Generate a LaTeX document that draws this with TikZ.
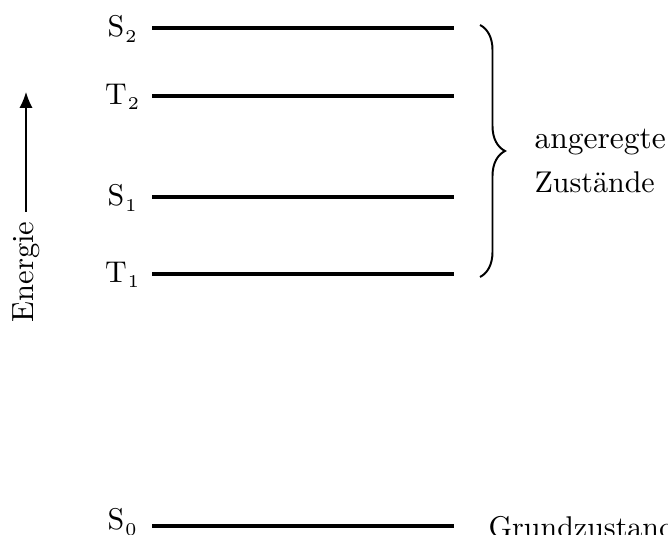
\documentclass[tikz,border=0pt]{standalone}
\usetikzlibrary{arrows.meta,decorations.pathreplacing}
% level label: upright letter with a small lowered index
\newcommand\lvlname[2]{#1\kern0.3pt\raisebox{-1.7pt}{\fontsize{6}{6}\selectfont #2}}
\begin{document}
\begin{tikzpicture}[x=0.33333pt,y=-0.33333pt,
  level/.style={line width=1.1pt},
  lvllabel/.style={inner sep=0pt,anchor=base},
  sidetext/.style={inner sep=0pt,anchor=base west}]
\useasboundingbox (0,0) rectangle (668,535);

% energy levels
\coordinate (s2a) at (152,28);  \coordinate (s2b) at (454,28);
\coordinate (t2a) at (152,96);  \coordinate (t2b) at (454,96);
\coordinate (s1a) at (152,197); \coordinate (s1b) at (454,197);
\coordinate (t1a) at (152,274); \coordinate (t1b) at (454,274);
\coordinate (s0a) at (152,526); \coordinate (s0b) at (454,526);
\draw[level] (s2a) -- (s2b);
\draw[level] (t2a) -- (t2b);
\draw[level] (s1a) -- (s1b);
\draw[level] (t1a) -- (t1b);
\draw[level] (s0a) -- (s0b);

\node[lvllabel] (ls2) at (122,37)    {\lvlname{S}{2}};
\node[lvllabel] (lt2) at (122,104.5) {\lvlname{T}{2}};
\node[lvllabel] (ls1) at (122,206)   {\lvlname{S}{1}};
\node[lvllabel] (lt1) at (122,282.5) {\lvlname{T}{1}};
\node[lvllabel] (ls0) at (122,530)   {\lvlname{S}{0}};

% brace over the excited states
\coordinate (btop) at (480,25);
\coordinate (bbot) at (480,277);
\draw[line width=0.65pt,decorate,decoration={brace,amplitude=8.33pt}] (btop) -- (bbot);
\node[sidetext,font=\fontsize{10.5}{12}\selectfont] (exc1) at (534,149) {angeregte};
\node[sidetext] (exc2) at (534,193) {Zustände};
\node[sidetext] (ground) at (488,538) {Grundzustand};

% energy axis
\node[inner sep=0pt,anchor=base,rotate=90,font=\fontsize{10.2}{12}\selectfont] (energy) at (33,272) {Energie};
\coordinate (arrbase) at (26,212);
\coordinate (arrtip) at (26,92);
\draw[line width=0.5pt,-{Latex[length=5.3pt,width=4.4pt]}] (arrbase) -- (arrtip);
\end{tikzpicture}
\end{document}
